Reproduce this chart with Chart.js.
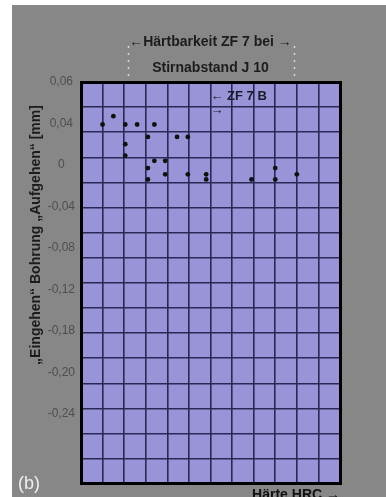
<!DOCTYPE html>
<html><head><meta charset="utf-8">
<script src="https://cdn.jsdelivr.net/npm/chart.js@4.4.1/dist/chart.umd.min.js"></script>
<style>
html,body{margin:0;padding:0;background:#fff;width:386px;height:497px;overflow:hidden}
#wrap{position:absolute;left:12px;top:5px;width:374px;height:492px;background:#878787}
canvas{display:block}
</style></head><body>
<div id="wrap"><canvas id="c" width="374" height="492"></canvas></div>
<script>
// ---- data ----
const hrc       = [30.0, 30.5, 31.05, 31.6, 32.4, 31.05, 31.05, 32.1, 33.45, 33.95, 32.4, 32.9, 32.1, 32.9, 33.95, 32.1, 34.8, 34.8, 36.9, 38.0, 38.0, 39.0];
const deviation = [0.039, 0.047, 0.039, 0.039, 0.039, 0.020, 0.009, 0.027, 0.027, 0.027, 0.004, 0.004, -0.003, -0.009, -0.009, -0.014, -0.009, -0.014, -0.014, -0.003, -0.014, -0.009];
const yTickLabels = ['0,06', '0,04', '0', '-0,04', '-0,08', '-0,12', '-0,18', '-0,20', '-0,24'];
const xTickLabels = [30, 35, 40];
const titleLines = ['←Härtbarkeit ZF 7 bei →', 'Stirnabstand J 10'];
const yTitle = '„Eingehen“ Bohrung „Aufgehen“ [mm]';
const xTitle = 'Härte HRC →';
const zfLabel = ['← ZF 7 B', '→'];
const zfHrc = 35;
const bracketHrc = [31.2, 38.85];
const panelLabel = '(b)';

// ---- layout constants ----
const xMin = 29, xMax = 41;
const yMax = 0.08, yStep = 0.04;
const yMin = yMax - 403 / 41.6 * yStep;
const gridCount = 16;
const FONT = "'Liberation Sans', Arial, sans-serif";
const NAVY = '#2a2856';
const PLOT_BG = '#9894d7';

const plotBg = {
  id: 'plotBg',
  beforeDraw(chart) {
    const {ctx, chartArea: a} = chart;
    ctx.save();
    ctx.fillStyle = PLOT_BG;
    ctx.fillRect(a.left, a.top, a.right - a.left, a.bottom - a.top);
    ctx.restore();
  }
};

const annotations = {
  id: 'annotations',
  afterDraw(chart) {
    const {ctx, chartArea: a, scales} = chart;
    const xs = scales.x;
    ctx.save();
    // dotted bracket lines
    ctx.strokeStyle = '#d6d6d6';
    ctx.lineWidth = 1.5;
    ctx.setLineDash([2, 5]);
    bracketHrc.forEach(v => {
      const px = Math.round(xs.getPixelForValue(v)) + 0.5;
      ctx.beginPath();
      ctx.moveTo(px, a.top - 36);
      ctx.lineTo(px, a.top - 3);
      ctx.stroke();
    });
    ctx.setLineDash([]);
    // ZF 7 B label
    ctx.fillStyle = '#1a1a2a';
    ctx.font = 'bold 13px ' + FONT;
    ctx.textAlign = 'left';
    ctx.textBaseline = 'middle';
    ctx.fillText(zfLabel[0], xs.getPixelForValue(zfHrc), a.top + 14);
    ctx.fillText(zfLabel[1], xs.getPixelForValue(zfHrc), a.top + 28);
    // y title
    ctx.save();
    ctx.translate(24, 230);
    ctx.rotate(-Math.PI / 2);
    ctx.textAlign = 'center';
    ctx.fillStyle = '#1c1c1c';
    ctx.font = 'bold 14px ' + FONT;
    ctx.fillText(yTitle, 0, 0);
    ctx.restore();
    // panel label
    ctx.fillStyle = '#eeeeee';
    ctx.font = '18px ' + FONT;
    ctx.textAlign = 'left';
    ctx.fillText(panelLabel, 6, 479);
    ctx.restore();
  }
};

const isEdge = (v, a, b) => Math.abs(v - a) < 1e-9 || Math.abs(v - b) < 1e-9;

new Chart(document.getElementById('c'), {
  type: 'scatter',
  data: {
    datasets: [{
      data: hrc.map((x, i) => ({x, y: deviation[i]})),
      pointRadius: 2.4,
      pointHoverRadius: 2.4,
      pointBackgroundColor: '#111',
      pointBorderWidth: 0
    }]
  },
  options: {
    responsive: false,
    animation: false,
    devicePixelRatio: 1,
    events: [],
    layout: {padding: {left: 0, right: 46, top: 0, bottom: 0}},
    plugins: {
      legend: {display: false},
      tooltip: {enabled: false},
      title: {
        display: true, text: titleLines[0], fullSize: false, color: '#1c1c1c',
        font: {family: FONT, size: 14, weight: 'bold'},
        padding: {top: 28.6, bottom: 9.2}
      },
      subtitle: {
        display: true, text: titleLines[1], fullSize: false, color: '#1c1c1c',
        font: {family: FONT, size: 14, weight: 'bold'},
        padding: {top: 0, bottom: 5.6}
      }
    },
    scales: {
      x: {
        type: 'linear', position: 'bottom', min: xMin, max: xMax,
        afterBuildTicks: s => { s.ticks = []; for (let v = xMin; v <= xMax; v++) s.ticks.push({value: v}); },
        ticks: {
          autoSkip: false, padding: -21, labelOffset: 7, color: '#30304a',
          font: {family: FONT, size: 12},
          callback: v => xTickLabels.includes(v) ? String(v) : ''
        },
        grid: {
          drawTicks: false,
          color: c => (c.tick && isEdge(c.tick.value, xMin, xMax)) ? '#000' : NAVY,
          lineWidth: c => (c.tick && isEdge(c.tick.value, xMin, xMax)) ? 3 : 1.6
        },
        border: {display: true, color: '#000', width: 3},
        title: {
          display: true, text: xTitle, align: 'end', color: '#111',
          font: {family: FONT, size: 14, weight: 'bold'},
          padding: {top: 0, bottom: -8}
        },
        afterFit: s => { s.height = 12; }
      },
      yl: {
        type: 'linear', position: 'left', min: yMin, max: yMax,
        afterBuildTicks: s => { s.ticks = yTickLabels.map((_, i) => ({value: yMax - i * yStep})); },
        ticks: {
          autoSkip: false, crossAlign: 'center', padding: 6, color: '#4e4e4e',
          font: {family: FONT, size: 12},
          callback: (v, i) => yTickLabels[i]
        },
        grid: {display: false, drawTicks: false},
        border: {display: true, color: '#000', width: 3},
        afterFit: s => { s.width = 69; }
      },
      y: {
        type: 'linear', position: 'right', min: yMin, max: yMax,
        afterBuildTicks: s => { s.ticks = []; for (let i = 0; i <= gridCount; i++) s.ticks.push({value: yMin + i * (yMax - yMin) / gridCount}); },
        ticks: {display: false},
        grid: {
          drawTicks: false,
          color: c => (c.tick && isEdge(c.tick.value, yMin, yMax)) ? '#000' : NAVY,
          lineWidth: c => (c.tick && isEdge(c.tick.value, yMin, yMax)) ? 3 : 1.6
        },
        border: {display: true, color: '#000', width: 3},
        afterFit: s => { s.width = 0; }
      }
    }
  },
  plugins: [plotBg, annotations]
});
</script>
</body></html>
